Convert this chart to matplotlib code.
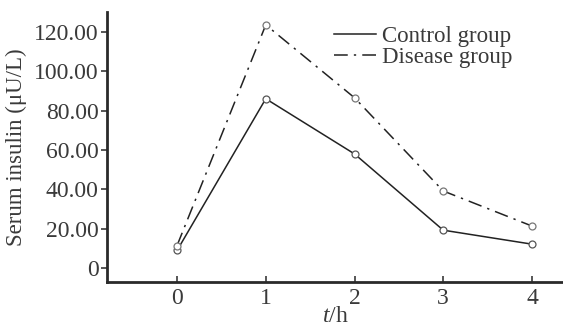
import matplotlib
matplotlib.use("Agg")
import matplotlib.pyplot as plt

# data
hours = [0, 1, 2, 3, 4]
control = [9.0, 86.0, 58.0, 19.3, 12.2]
disease = [11.5, 123.5, 86.5, 39.2, 21.4]
y_ticks = [0, 20, 40, 60, 80, 100, 120]
y_tick_labels = ["0", "20.00", "40.00", "60.00", "80.00", "100.00", "120.00"]

plt.rcParams["font.family"] = "serif"
plt.rcParams["font.serif"] = ["Liberation Serif", "DejaVu Serif"]
plt.rcParams["mathtext.fontset"] = "custom"
plt.rcParams["mathtext.rm"] = "Liberation Serif"
plt.rcParams["mathtext.it"] = "Liberation Serif:italic"
text_color = "#3a3a3a"

fig = plt.figure(figsize=(5.63, 3.26), dpi=100)
ax = fig.add_axes([0.19, 0.135, 0.81, 0.828])

ax.plot(hours, control, color="#222222", lw=1.1, ls="-", marker="o",
        ms=5, mfc="white", mec="#555555", mew=0.9, label="Control group")
ax.plot(hours, disease, color="#222222", lw=1.1, ls=(0, (9, 4, 1.5, 4)), marker="o",
        ms=5, mfc="white", mec="#777777", mew=0.9, label="Disease group")

ax.set_xlim(-0.79, 4.35)
ax.set_ylim(-7, 130)
ax.set_xticks(hours)
ax.set_yticks(y_ticks)
ax.set_yticklabels(y_tick_labels)
ax.tick_params(axis="both", labelsize=17, colors=text_color, width=1.2, length=4)
ax.tick_params(axis="x", direction="in", pad=4)
ax.tick_params(axis="y", direction="out", pad=2)
for side in ("top", "right"):
    ax.spines[side].set_visible(False)
for side in ("left", "bottom"):
    ax.spines[side].set_linewidth(2)
    ax.spines[side].set_color("#2a2a2a")

ax.set_xlabel(r"$\it{t}$/h", fontsize=17, color=text_color, labelpad=-2)
ax.set_ylabel("Serum insulin (μU/L)", fontsize=16.5, color=text_color, labelpad=5)

leg = ax.legend(loc="upper right", bbox_to_anchor=(0.89, 0.95), frameon=False,
                fontsize=16.5, handlelength=1.8, handletextpad=0.3,
                labelspacing=0.0, borderaxespad=0.0, borderpad=0.0)
for t in leg.get_texts():
    t.set_color(text_color)
for h in leg.legend_handles:
    h.set_marker("")

fig.savefig("out.png", dpi=100)
